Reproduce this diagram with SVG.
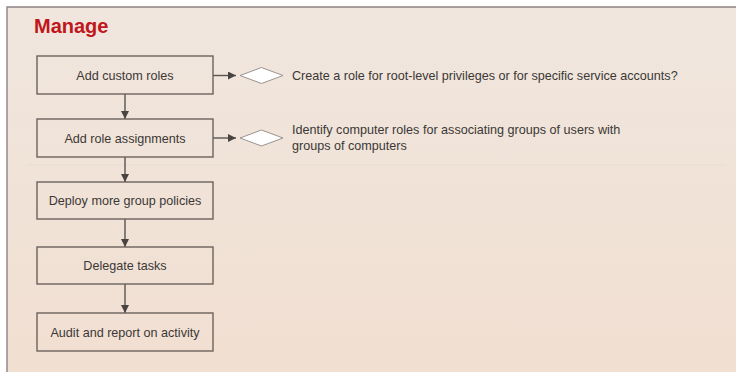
<svg xmlns="http://www.w3.org/2000/svg" width="736" height="372" viewBox="0 0 736 372">
  <style>
    .box { fill: none; stroke: #6b625d; stroke-width: 1.4; }
    .lbl { font-family: "Liberation Sans", Arial, sans-serif; font-size: 12.6px; fill: #3b3836; text-anchor: middle; }
    .note { font-family: "Liberation Sans", Arial, sans-serif; font-size: 12.6px; fill: #3b3836; }
    .link { fill: none; stroke: #5a5350; stroke-width: 1.4; }
    .dia { fill: #ffffff; stroke: #9a9390; stroke-width: 1; }
  </style>
  <defs>
    <linearGradient id="bg" x1="0" y1="0" x2="0" y2="1">
      <stop offset="0" stop-color="#f0e6de"/>
      <stop offset="1" stop-color="#f1dfd1"/>
    </linearGradient>
    <marker id="arr" viewBox="0 0 10 10" refX="10" refY="5" markerWidth="8" markerHeight="8" markerUnits="userSpaceOnUse" orient="auto">
      <path d="M0,0 L10,5 L0,10 Z" fill="#4a4441"/>
    </marker>
  </defs>

  <!-- page and slide frame -->
  <rect x="0" y="0" width="736" height="372" fill="#ffffff"/>
  <rect x="7" y="7" width="729" height="365" fill="url(#bg)"/>
  <path d="M7,372 V7 H736" fill="none" stroke="#8c8382" stroke-width="1.4"/>
  <line x1="27" y1="165" x2="726" y2="165" stroke="#e8dcd3" stroke-width="1"/>

  <text x="34" y="33" font-family="'Liberation Sans', Arial, sans-serif" font-size="20" font-weight="bold" fill="#c0161c">Manage</text>

  <g id="connectors">
    <line class="link" x1="125" y1="94" x2="125" y2="119" marker-end="url(#arr)"/>
    <line class="link" x1="125" y1="157" x2="125" y2="182" marker-end="url(#arr)"/>
    <line class="link" x1="125" y1="219" x2="125" y2="247" marker-end="url(#arr)"/>
    <line class="link" x1="125" y1="284" x2="125" y2="313" marker-end="url(#arr)"/>
    <line class="link" x1="213" y1="75.5" x2="236" y2="75.5" marker-end="url(#arr)"/>
    <line class="link" x1="213" y1="138" x2="236" y2="138" marker-end="url(#arr)"/>
  </g>

  <g id="add-custom-roles">
    <rect class="box" x="37" y="56" width="176" height="38"/>
    <text class="lbl" x="125" y="79.5">Add custom roles</text>
  </g>
  <g id="add-role-assignments">
    <rect class="box" x="37" y="119" width="176" height="38"/>
    <text class="lbl" x="125" y="142.5">Add role assignments</text>
  </g>
  <g id="deploy-group-policies">
    <rect class="box" x="37" y="182" width="176" height="37"/>
    <text class="lbl" x="125" y="205">Deploy more group policies</text>
  </g>
  <g id="delegate-tasks">
    <rect class="box" x="37" y="247" width="176" height="37"/>
    <text class="lbl" x="125" y="270">Delegate tasks</text>
  </g>
  <g id="audit-report">
    <rect class="box" x="37" y="313" width="176" height="38"/>
    <text class="lbl" x="125" y="336.5">Audit and report on activity</text>
  </g>

  <g id="decision-root-role">
    <polygon class="dia" points="240,75.5 261.5,67.5 283,75.5 261.5,83.5"/>
    <text class="note" x="292" y="79.5">Create a role for root-level privileges or for specific service accounts?</text>
  </g>
  <g id="decision-computer-roles">
    <polygon class="dia" points="240,138 261.5,130 283,138 261.5,146"/>
    <text class="note" x="292" y="133.5">Identify computer roles for associating groups of users with</text>
    <text class="note" x="292" y="149.5">groups of computers</text>
  </g>
</svg>
